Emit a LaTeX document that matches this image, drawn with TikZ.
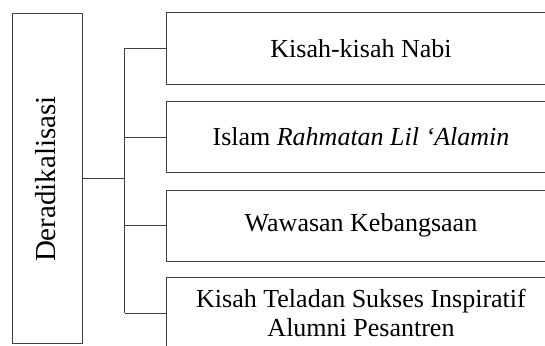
\documentclass[tikz,border=0pt]{standalone}
\usepackage{fontspec}
\setmainfont{Liberation Serif}
\begin{document}
\begin{tikzpicture}[x=1pt,y=-1pt,
  box/.style={draw=black!75,line width=1pt,rectangle,inner sep=0pt,align=center,
    font=\fontsize{26}{29}\selectfont},
  itembox/.style={box,minimum width=390pt,minimum height=71pt},
  link/.style={draw=black!75,line width=1pt}]
\useasboundingbox (0,0) rectangle (545,345);
\clip (0,0) rectangle (545,345);
% root box with rotated label
\node[box,minimum width=70pt,minimum height=330pt] (root) at (47,178.5) {};
\node[rotate=90,font=\fontsize{29}{32}\selectfont,inner sep=0pt] (rootlabel) at (46,179) {Deradikalisasi};
% branch boxes
\node[itembox] (b1) at (361,48.5) {Kisah-kisah Nabi};
\node[itembox] (b2) at (361,137) {Islam \textit{Rahmatan Lil ‘Alamin}};
\node[itembox] (b3) at (361,225.5) {Wawasan Kebangsaan};
\node[itembox] (b4) at (361,313) {Kisah Teladan Sukses Inspiratif\\Alumni Pesantren};
% tree connectors
\draw[link] (root.east) -- ++(42,0) coordinate (j);
\draw[link] (j |- b1.west) -- (j |- b4.west);
\foreach \b in {b1,b2,b3,b4}
  \draw[link] (j |- \b.west) -- (\b.west);
\end{tikzpicture}
\end{document}
